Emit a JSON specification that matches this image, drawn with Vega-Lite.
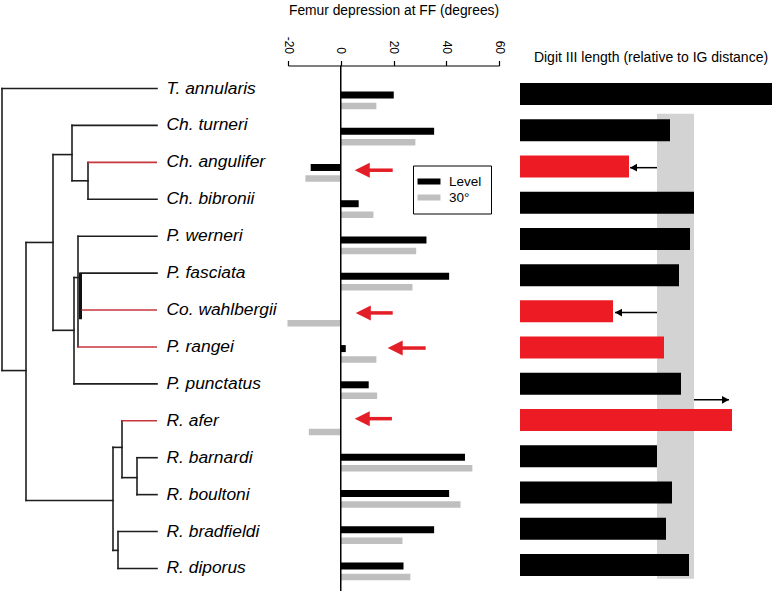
{
  "$schema": "https://vega.github.io/schema/vega-lite/v6.json",
  "padding": {"left": 0, "top": 2.5, "right": 0, "bottom": 0},
  "background": "white",
  "bounds": "flush",
  "spacing": 21,
  "config": {"view": {"stroke": null}, "font": "Liberation Sans"},
  "resolve": {"scale": {"color": "independent", "shape": "independent", "x": "independent", "y": "independent"}, "legend": {"color": "independent", "shape": "independent"}},
  "datasets": {
    "tree": [
      {"x": 2, "x2": 2, "y": 0, "y2": 7.64, "hl": "no"},
      {"x": 26, "x2": 26, "y": 4.17, "y2": 11.16, "hl": "no"},
      {"x": 53, "x2": 53, "y": 1.79, "y2": 6.55, "hl": "no"},
      {"x": 72, "x2": 72, "y": 1, "y2": 2.5, "hl": "no"},
      {"x": 88, "x2": 88, "y": 2, "y2": 3, "hl": "no"},
      {"x": 74, "x2": 74, "y": 5.12, "y2": 8, "hl": "no"},
      {"x": 78, "x2": 78, "y": 4, "y2": 7, "hl": "no"},
      {"x": 80.5, "x2": 80.5, "y": 5, "y2": 6.25, "hl": "thick"},
      {"x": 113, "x2": 113, "y": 9.72, "y2": 12.51, "hl": "no"},
      {"x": 122, "x2": 122, "y": 9, "y2": 10.54, "hl": "no"},
      {"x": 137, "x2": 137, "y": 10, "y2": 11, "hl": "no"},
      {"x": 118, "x2": 118, "y": 12, "y2": 13, "hl": "no"},
      {"x": 2, "x2": 157, "y": 0, "y2": 0, "hl": "no"},
      {"x": 2, "x2": 26, "y": 7.64, "y2": 7.64, "hl": "no"},
      {"x": 26, "x2": 53, "y": 4.17, "y2": 4.17, "hl": "no"},
      {"x": 26, "x2": 113, "y": 11.16, "y2": 11.16, "hl": "no"},
      {"x": 53, "x2": 72, "y": 1.79, "y2": 1.79, "hl": "no"},
      {"x": 53, "x2": 74, "y": 6.55, "y2": 6.55, "hl": "no"},
      {"x": 72, "x2": 157, "y": 1, "y2": 1, "hl": "no"},
      {"x": 72, "x2": 88, "y": 2.5, "y2": 2.5, "hl": "no"},
      {"x": 88, "x2": 157, "y": 2, "y2": 2, "hl": "yes"},
      {"x": 88, "x2": 157, "y": 3, "y2": 3, "hl": "no"},
      {"x": 74, "x2": 78, "y": 5.12, "y2": 5.12, "hl": "no"},
      {"x": 78, "x2": 157, "y": 4, "y2": 4, "hl": "no"},
      {"x": 80, "x2": 157, "y": 5, "y2": 5, "hl": "no"},
      {"x": 81.5, "x2": 157, "y": 6, "y2": 6, "hl": "yes"},
      {"x": 78, "x2": 157, "y": 7, "y2": 7, "hl": "yes"},
      {"x": 74, "x2": 157, "y": 8, "y2": 8, "hl": "no"},
      {"x": 113, "x2": 122, "y": 9.72, "y2": 9.72, "hl": "no"},
      {"x": 122, "x2": 157, "y": 9, "y2": 9, "hl": "yes"},
      {"x": 122, "x2": 137, "y": 10.54, "y2": 10.54, "hl": "no"},
      {"x": 137, "x2": 157, "y": 10, "y2": 10, "hl": "no"},
      {"x": 137, "x2": 157, "y": 11, "y2": 11, "hl": "no"},
      {"x": 113, "x2": 118, "y": 12.51, "y2": 12.51, "hl": "no"},
      {"x": 118, "x2": 157, "y": 12, "y2": 12, "hl": "no"},
      {"x": 118, "x2": 157, "y": 13, "y2": 13, "hl": "no"}
    ],
    "species": [
      {"species": "T. annularis", "row": 0, "tip": 157, "hl": "no", "digit": 2.52},
      {"species": "Ch. turneri", "row": 1, "tip": 157, "hl": "no", "digit": 1.50},
      {"species": "Ch. angulifer", "row": 2, "tip": 157, "hl": "yes", "digit": 1.09},
      {"species": "Ch. bibronii", "row": 3, "tip": 157, "hl": "no", "digit": 1.74},
      {"species": "P. werneri", "row": 4, "tip": 157, "hl": "no", "digit": 1.70},
      {"species": "P. fasciata", "row": 5, "tip": 157, "hl": "no", "digit": 1.59},
      {"species": "Co. wahlbergii", "row": 6, "tip": 157, "hl": "yes", "digit": 0.93},
      {"species": "P. rangei", "row": 7, "tip": 157, "hl": "yes", "digit": 1.44},
      {"species": "P. punctatus", "row": 8, "tip": 157, "hl": "no", "digit": 1.61},
      {"species": "R. afer", "row": 9, "tip": 157, "hl": "yes", "digit": 2.12},
      {"species": "R. barnardi", "row": 10, "tip": 157, "hl": "no", "digit": 1.37},
      {"species": "R. boultoni", "row": 11, "tip": 157, "hl": "no", "digit": 1.52},
      {"species": "R. bradfieldi", "row": 12, "tip": 157, "hl": "no", "digit": 1.46},
      {"species": "R. diporus", "row": 13, "tip": 157, "hl": "no", "digit": 1.69}
    ],
    "femur": [
      {"species": "T. annularis", "row": 0, "cond": "Level", "value": 20.1},
      {"species": "T. annularis", "row": 0, "cond": "30°", "value": 13.5},
      {"species": "Ch. turneri", "row": 1, "cond": "Level", "value": 35.4},
      {"species": "Ch. turneri", "row": 1, "cond": "30°", "value": 28.3},
      {"species": "Ch. angulifer", "row": 2, "cond": "Level", "value": -11.4},
      {"species": "Ch. angulifer", "row": 2, "cond": "30°", "value": -13.4},
      {"species": "Ch. bibronii", "row": 3, "cond": "Level", "value": 6.8},
      {"species": "Ch. bibronii", "row": 3, "cond": "30°", "value": 12.4},
      {"species": "P. werneri", "row": 4, "cond": "Level", "value": 32.5},
      {"species": "P. werneri", "row": 4, "cond": "30°", "value": 28.6},
      {"species": "P. fasciata", "row": 5, "cond": "Level", "value": 41.1},
      {"species": "P. fasciata", "row": 5, "cond": "30°", "value": 27.2},
      {"species": "Co. wahlbergii", "row": 6, "cond": "30°", "value": -20.2},
      {"species": "P. rangei", "row": 7, "cond": "Level", "value": 1.9},
      {"species": "P. rangei", "row": 7, "cond": "30°", "value": 13.5},
      {"species": "P. punctatus", "row": 8, "cond": "Level", "value": 10.6},
      {"species": "P. punctatus", "row": 8, "cond": "30°", "value": 13.8},
      {"species": "R. afer", "row": 9, "cond": "30°", "value": -12.1},
      {"species": "R. barnardi", "row": 10, "cond": "Level", "value": 47.1},
      {"species": "R. barnardi", "row": 10, "cond": "30°", "value": 49.9},
      {"species": "R. boultoni", "row": 11, "cond": "Level", "value": 41.1},
      {"species": "R. boultoni", "row": 11, "cond": "30°", "value": 45.4},
      {"species": "R. bradfieldi", "row": 12, "cond": "Level", "value": 35.4},
      {"species": "R. bradfieldi", "row": 12, "cond": "30°", "value": 23.4},
      {"species": "R. diporus", "row": 13, "cond": "Level", "value": 23.8},
      {"species": "R. diporus", "row": 13, "cond": "30°", "value": 26.4}
    ],
    "farrows": [
      {"species": "Ch. angulifer", "y": 2.13, "tip": 5.3, "neck": 8.3, "tail": 19.7},
      {"species": "Co. wahlbergii", "y": 6.07, "tip": 5.7, "neck": 8.7, "tail": 19.7},
      {"species": "P. rangei", "y": 7.04, "tip": 17.8, "neck": 20.8, "tail": 32.2},
      {"species": "R. afer", "y": 8.99, "tip": 5.3, "neck": 8.3, "tail": 19.4}
    ],
    "band": [{"lo": 1.37, "hi": 1.74, "top": 0.57, "bottom": 13.41}],
    "darrows": [
      {"species": "Ch. angulifer", "y": 2.06, "tip": 1.10, "tail": 1.37, "dir": "left"},
      {"species": "Co. wahlbergii", "y": 6.06, "tip": 0.95, "tail": 1.37, "dir": "left"},
      {"species": "R. afer", "y": 8.47, "tip": 2.09, "tail": 1.74, "dir": "right"}
    ],
    "zero": [{"value": 0}]
  },
  "hconcat": [
    {
      "width": 267, "height": 526,
      "layer": [
        {
          "data": {"name": "tree"},
          "transform": [{"filter": "datum.hl === 'no'"}],
          "mark": {"type": "rule", "strokeWidth": 1.6, "strokeCap": "square", "color": "#1e1e1e"},
          "encoding": {
            "x": {"field": "x", "type": "quantitative", "scale": {"domain": [0, 267], "nice": false, "zero": false}, "axis": null},
            "x2": {"field": "x2"},
            "y": {"field": "y", "type": "quantitative", "scale": {"domain": [-0.623, 13.624], "reverse": true, "nice": false, "zero": false}, "axis": null},
            "y2": {"field": "y2"}
          }
        },
        {
          "data": {"name": "tree"},
          "transform": [{"filter": "datum.hl === 'thick'"}],
          "mark": {"type": "rule", "strokeWidth": 3, "strokeCap": "butt", "color": "#111111"},
          "encoding": {
            "x": {"field": "x", "type": "quantitative"},
            "x2": {"field": "x2"},
            "y": {"field": "y", "type": "quantitative"},
            "y2": {"field": "y2"}
          }
        },
        {
          "data": {"name": "tree"},
          "transform": [{"filter": "datum.hl === 'yes'"}],
          "mark": {"type": "rule", "strokeWidth": 1.6, "strokeCap": "butt", "color": "#c8363d"},
          "encoding": {
            "x": {"field": "x", "type": "quantitative"},
            "x2": {"field": "x2"},
            "y": {"field": "y", "type": "quantitative"},
            "y2": {"field": "y2"}
          }
        },
        {
          "data": {"name": "species"},
          "mark": {"type": "text", "align": "left", "baseline": "middle", "dx": 9.5, "fontSize": 17.4, "fontStyle": "italic", "font": "Liberation Sans", "color": "#000000"},
          "encoding": {
            "x": {"field": "tip", "type": "quantitative"},
            "y": {"field": "row", "type": "quantitative"},
            "text": {"field": "species"}
          }
        }
      ]
    },
    {
      "width": 211, "height": 526,
      "layer": [
        {
          "data": {"name": "femur"},
          "transform": [{"filter": "datum.cond === 'Level'"}],
          "mark": {"type": "bar", "height": 7, "yOffset": 2, "orient": "horizontal"},
          "encoding": {
            "x": {"field": "value", "type": "quantitative", "title": "Femur depression at FF (degrees)",
              "scale": {"domain": [-20, 60], "nice": false, "zero": false},
              "axis": {"orient": "top", "values": [-20, 0, 20, 40, 60], "labelAngle": 90, "labelAlign": "right", "labelBaseline": "middle", "labelFontSize": 12, "labelFont": "Liberation Sans", "labelColor": "#000000", "labelPadding": 7, "labelExpr": "'' + datum.value", "tickSize": 5, "tickColor": "#000000", "tickWidth": 1.2, "domainColor": "#000000", "domainWidth": 1.2, "grid": false, "titleFontSize": 13.8, "titleFontWeight": "normal", "titleFont": "Liberation Sans", "titleColor": "#000000", "titlePadding": 19}},
            "x2": {"datum": 0},
            "y": {"field": "row", "type": "quantitative", "scale": {"domain": [-0.623, 13.624], "reverse": true, "nice": false, "zero": false}, "axis": null},
            "color": {"field": "cond", "type": "nominal", "scale": {"domain": ["Level", "30°"], "range": ["#000000", "#bfbfbf"]},
              "legend": {"title": null, "orient": "none", "legendX": 125, "legendY": 100, "symbolType": "M-1.64,-0.43H1.64V0.43H-1.64Z", "symbolSize": 196, "symbolStrokeWidth": 0, "labelFontSize": 13.5, "labelFont": "Liberation Sans", "labelColor": "#000000", "labelOffset": 13, "padding": 9, "rowPadding": 2, "strokeColor": "#000000"}}
          }
        },
        {
          "data": {"name": "femur"},
          "transform": [{"filter": "datum.cond === '30°'"}],
          "mark": {"type": "bar", "height": 6.5, "yOffset": 13, "orient": "horizontal"},
          "encoding": {
            "x": {"field": "value", "type": "quantitative", "title": "Femur depression at FF (degrees)"},
            "x2": {"datum": 0},
            "y": {"field": "row", "type": "quantitative"},
            "color": {"field": "cond", "type": "nominal", "scale": {"domain": ["Level", "30°"], "range": ["#000000", "#bfbfbf"]},
              "legend": {"title": null, "orient": "none", "legendX": 125, "legendY": 100, "symbolType": "M-1.64,-0.43H1.64V0.43H-1.64Z", "symbolSize": 196, "symbolStrokeWidth": 0, "labelFontSize": 13.5, "labelFont": "Liberation Sans", "labelColor": "#000000", "labelOffset": 13, "padding": 9, "rowPadding": 2, "strokeColor": "#000000"}}
          }
        },
        {
          "data": {"name": "zero"},
          "mark": {"type": "rule", "strokeWidth": 1.5, "color": "#000000"},
          "encoding": {
            "x": {"field": "value", "type": "quantitative", "title": "Femur depression at FF (degrees)"}
          }
        },
        {
          "data": {"name": "farrows"},
          "mark": {"type": "rule", "strokeWidth": 3.5, "color": "#e41e26"},
          "encoding": {
            "x": {"field": "tail", "type": "quantitative", "title": "Femur depression at FF (degrees)"},
            "x2": {"field": "neck"},
            "y": {"field": "y", "type": "quantitative"}
          }
        },
        {
          "data": {"name": "farrows"},
          "mark": {"type": "point", "shape": "M0,0L1,-0.5L1,0.5Z", "size": 900, "filled": true, "opacity": 1, "color": "#e41e26", "strokeWidth": 0},
          "encoding": {
            "x": {"field": "tip", "type": "quantitative", "title": "Femur depression at FF (degrees)"},
            "y": {"field": "y", "type": "quantitative"}
          }
        }
      ]
    },
    {
      "width": 252, "height": 526,
      "title": {"text": "Digit III length (relative to IG distance)", "fontSize": 14, "fontWeight": "normal", "font": "Liberation Sans", "anchor": "middle", "offset": 2, "baseline": "alphabetic", "dx": 5, "dy": 12, "color": "#000000"},
      "layer": [
        {
          "data": {"name": "band"},
          "mark": {"type": "rect", "color": "#d3d3d3"},
          "encoding": {
            "x": {"field": "lo", "type": "quantitative", "scale": {"domain": [0, 2.52], "nice": false, "zero": false}, "axis": null},
            "x2": {"field": "hi"},
            "y": {"field": "top", "type": "quantitative", "scale": {"domain": [-0.623, 13.624], "reverse": true, "nice": false, "zero": false}, "axis": null},
            "y2": {"field": "bottom"}
          }
        },
        {
          "data": {"name": "species"},
          "transform": [{"filter": "datum.hl === 'no'"}],
          "mark": {"type": "bar", "height": 22, "yOffset": 1, "orient": "horizontal", "color": "#000000"},
          "encoding": {
            "x": {"field": "digit", "type": "quantitative"},
            "x2": {"datum": 0},
            "y": {"field": "row", "type": "quantitative"}
          }
        },
        {
          "data": {"name": "species"},
          "transform": [{"filter": "datum.hl === 'yes'"}],
          "mark": {"type": "bar", "height": 22, "yOffset": 1, "orient": "horizontal", "color": "#ed1c24"},
          "encoding": {
            "x": {"field": "digit", "type": "quantitative"},
            "x2": {"datum": 0},
            "y": {"field": "row", "type": "quantitative"}
          }
        },
        {
          "data": {"name": "darrows"},
          "mark": {"type": "rule", "strokeWidth": 1.5, "color": "#000000"},
          "encoding": {
            "x": {"field": "tail", "type": "quantitative"},
            "x2": {"field": "tip"},
            "y": {"field": "y", "type": "quantitative"}
          }
        },
        {
          "data": {"name": "darrows"},
          "mark": {"type": "point", "size": 196, "filled": true, "opacity": 1, "color": "#000000", "strokeWidth": 0},
          "encoding": {
            "x": {"field": "tip", "type": "quantitative"},
            "y": {"field": "y", "type": "quantitative"},
            "shape": {"field": "dir", "type": "nominal", "scale": {"domain": ["left", "right"], "range": ["M0,0L1,-0.55L1,0.55Z", "M0,0L-1,-0.55L-1,0.55Z"]}, "legend": null}
          }
        }
      ]
    }
  ]
}
